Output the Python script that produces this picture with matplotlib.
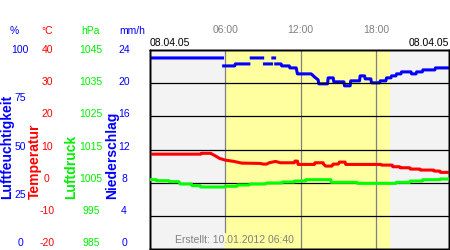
import numpy as np
import matplotlib
matplotlib.use("Agg")
import matplotlib.pyplot as plt

plt.rcParams['font.family'] = ['Liberation Sans', 'DejaVu Sans']

nan = np.nan

# Luftfeuchtigkeit (%), NaN where the line breaks
hum_t = [0.0, 5.9, nan,
         5.75, 6.75, 6.8, 8.0, nan,
         7.95, 9.1, nan,
         9.0, 9.8, nan,
         9.67, 10.05, nan,
         9.9, 10.45, 10.5, 11.1, 11.15, 11.65, 11.75, 12.85, 13.1, 13.4, 13.45,
         14.15, 14.2, 14.6, 14.65, 15.45, 15.5, 15.95, 16.0, 16.7, 16.75, 17.1,
         17.15, 17.6, 17.65, 18.3, 18.35, 18.8, 18.85, 19.2, 19.25, 19.6, 19.65,
         20.0, 20.05, 20.8, 20.85, 21.2, 21.25, 21.7, 21.75, 22.7, 22.75, 23.83]
hum_v = [96, 96, nan,
         92, 92, 93, 93, nan,
         96, 96, nan,
         93, 93, nan,
         96, 96, nan,
         93, 93, 92, 92, 91, 91, 88, 88, 86.5, 85, 83,
         83, 86, 86, 84, 84, 82, 82, 84.5, 84.5, 87, 87,
         85.5, 85.5, 83.5, 83.5, 84.5, 84.5, 86, 86, 87, 87, 88,
         88, 89, 89, 88, 88, 89, 89, 90, 90, 91, 91]

# Temperatur (°C)
temp_t = [0.0, 4.05, 4.1, 4.85, 4.9, 5.2, 5.55, 6.0, 6.7, 7.3, 8.8, 9.0, 9.3,
          9.5, 10.0, 10.4, 11.5, 11.55, 11.75, 11.8, 13.1, 13.15, 13.8, 13.85,
          14.0, 14.5, 14.6, 15.0, 15.1, 15.55, 15.6, 18.4, 18.45, 19.3, 19.35,
          19.9, 19.95, 20.7, 20.75, 21.5, 21.55, 22.6, 22.65, 23.1, 23.15, 23.83]
temp_v = [8.6, 8.6, 8.85, 8.85, 8.7, 8.1, 7.3, 6.8, 6.4, 5.9, 5.8, 5.6, 5.6,
          6.0, 6.4, 6.0, 6.0, 6.5, 6.5, 5.5, 5.5, 6.0, 6.0, 5.5,
          5.0, 5.0, 5.6, 5.6, 6.2, 6.2, 5.5, 5.5, 5.3, 5.3, 4.8,
          4.8, 4.5, 4.5, 4.1, 4.1, 3.8, 3.8, 3.5, 3.5, 3.1, 3.1]

# Luftdruck (hPa)
pres_t = [0.0, 0.5, 0.55, 1.5, 1.55, 2.3, 2.4, 3.3, 3.35, 4.0, 4.05, 5.9, 6.0,
          6.9, 7.0, 7.9, 8.0, 9.2, 9.3, 10.5, 10.55, 11.5, 11.55, 12.4, 12.45,
          14.4, 14.45, 16.5, 16.55, 19.6, 19.65, 20.7, 20.75, 21.7, 21.75,
          23.1, 23.15, 23.83]
pres_v = [1005.9, 1005.9, 1005.6, 1005.6, 1005.3, 1005.3, 1004.6, 1004.6,
          1004.1, 1004.1, 1003.7, 1003.7, 1003.9, 1003.9, 1004.3, 1004.3,
          1004.6, 1004.6, 1004.9, 1004.9, 1005.2, 1005.2, 1005.5, 1005.5,
          1005.9, 1005.9, 1005.1, 1005.1, 1004.8, 1004.8, 1005.1, 1005.1,
          1005.5, 1005.5, 1005.9, 1005.9, 1006.1, 1006.1]

hum_ticks = [0, 25, 50, 75, 100]
temp_ticks = [-20, -10, 0, 10, 20, 30, 40]
pres_ticks = [985, 995, 1005, 1015, 1025, 1035, 1045]
rain_ticks = [0, 4, 8, 12, 16, 20, 24]

hour_ticks = [6, 12, 18]
hour_labels = ["06:00", "12:00", "18:00"]
sunrise, sunset = 6.0, 19.1
date_label = "08.04.05"
created = "Erstellt: 10.01.2012 06:40"

BLUE = '#0000ff'
RED = '#ff0000'
GREEN = '#00ee00'
GRAY = '#808080'

W, H = 450, 250
fig = plt.figure(figsize=(4.5, 2.5), dpi=100)


def box(l, t, r, b):
    return [l / W, (H - b) / H, (r - l) / W, (b - t) / H]


ax = fig.add_axes(box(150, 50, 449, 249))
ax.set_facecolor('#f3f3f3')
ax.set_xlim(0, 23.83)
ax.set_ylim(0, 100)
ax.axvspan(sunrise, sunset, color='#ffffa0', lw=0, zorder=0)

axt = ax.twinx()
axt.set_ylim(-20, 40)
axp = ax.twinx()
axp.set_ylim(985, 1045)

for a in (ax, axt, axp):
    a.set_xticks([])
    a.set_yticks([])
    for s in a.spines.values():
        s.set_color('black')
        s.set_linewidth(1.0)

for v in temp_ticks[1:-1]:
    axt.axhline(v, color='black', lw=0.9, zorder=5)
for i, h in enumerate(hour_ticks):
    ax.axvline(h, ymin=0.085 if i == 0 else 0, color=GRAY, lw=0.9, zorder=1)

ax.plot(hum_t, hum_v, color=BLUE, lw=2.2, solid_capstyle='butt', zorder=3)
axp.plot(pres_t, pres_v, color='#00ff00', lw=2.2, solid_capstyle='butt', zorder=3)
axt.plot(temp_t, temp_v, color=RED, lw=2.2, solid_capstyle='butt', zorder=3)

for h, lab in zip(hour_ticks, hour_labels):
    ax.text(h, 1 + 20 / 199, lab, transform=ax.get_xaxis_transform(),
            ha='center', va='center', fontsize=7.5, color=GRAY)
ax.text(0, 1 + 7 / 199, date_label, transform=ax.transAxes, ha='left',
        va='center', fontsize=7.5, color='black')
ax.text(1, 1 + 7 / 199, date_label, transform=ax.transAxes, ha='right',
        va='center', fontsize=7.5, color='black')
ax.text(175 / W, (H - 240) / H, created, transform=fig.transFigure, ha='left',
        va='center', fontsize=7.5, color=GRAY, zorder=6)

# left scale labels
lax = fig.add_axes(box(0, 50, 150, 243.3))
lax.set_xlim(0, 150)
lax.set_ylim(0, 1)
lax.axis('off')


def scale(ticks, x, color):
    lo, hi = ticks[0], ticks[-1]
    for v in ticks:
        lax.text(x, (v - lo) / (hi - lo), str(v), ha='center', va='center',
                 fontsize=7.5, color=color)


scale(hum_ticks, 20, BLUE)
scale(temp_ticks, 47, RED)
scale(pres_ticks, 91, GREEN)
scale(rain_ticks, 124, BLUE)

head_y = (H - 31) / H
for x, lab, c in [(14, "%", BLUE), (47, "°C", RED), (90, "hPa", GREEN),
                  (132, "mm/h", BLUE)]:
    fig.text(x / W, head_y, lab, ha='center', va='center', fontsize=7.5, color=c)

for x, lab, c in [(7, "Luftfeuchtigkeit", BLUE), (35, "Temperatur", RED),
                  (71, "Luftdruck", GREEN), (112, "Niederschlag", BLUE)]:
    fig.text(x / W, (H - 199) / H, lab, rotation=90, rotation_mode='anchor',
             ha='left', va='center', fontsize=10, fontweight='bold', color=c)

fig.savefig("out.png", dpi=100)
